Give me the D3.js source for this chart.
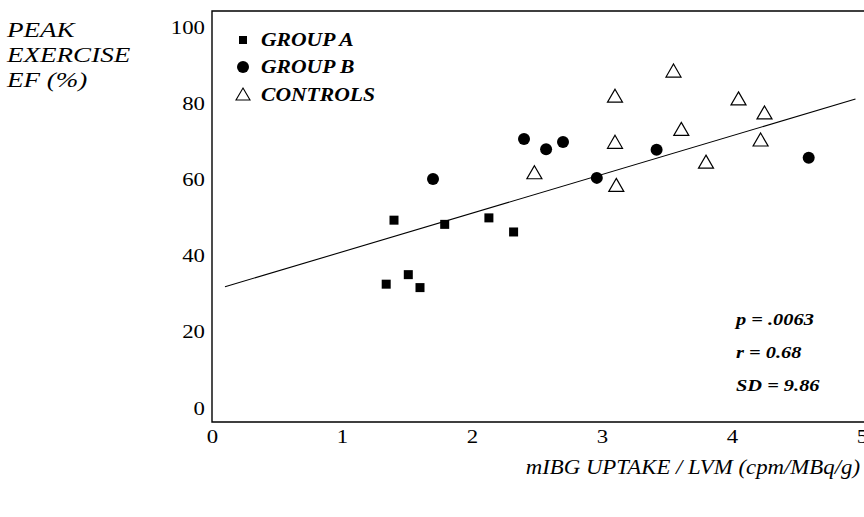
<!DOCTYPE html>
<html>
<head>
<meta charset="utf-8">
<script src="https://cdn.jsdelivr.net/npm/d3@7"></script>
<style>
  html, body { margin: 0; padding: 0; background: #fff; }
  svg { display: block; }
  svg text { font-family: "Liberation Serif", "Tinos", "Times New Roman", "DejaVu Serif", serif; fill: #000; }
</style>
</head>
<body>
<svg id="chart" width="864" height="517"></svg>
<script>
// ---- data ----
const xTicks = [0, 1, 2, 3, 4, 5];
const yTicks = [0, 20, 40, 60, 80, 100];
const groupAX = [1.34, 1.40, 1.51, 1.60, 1.79, 2.13, 2.32];
const groupAY = [32.5, 49.3, 35.0, 31.6, 48.2, 49.9, 46.2];
const groupBX = [1.70, 2.40, 2.57, 2.70, 2.96, 3.42, 4.59];
const groupBY = [60.1, 70.6, 67.9, 69.8, 60.4, 67.8, 65.7];
const controlsX = [2.48, 3.10, 3.10, 3.11, 3.55, 3.61, 3.80, 4.05, 4.22, 4.25];
const controlsY = [61.6, 81.7, 69.6, 58.3, 88.3, 73.0, 64.4, 81.0, 70.2, 77.3];
const fitIntercept = 30.8;
const fitSlope = 10.16;
const fitRange = [0.1, 4.95];
const legendLabels = ["GROUP A", "GROUP B", "CONTROLS"];
const statsLabels = ["p = .0063", "r = 0.68", "SD = 9.86"];
const yTitleLines = ["PEAK", "EXERCISE", "EF (%)"];
const xTitle = "mIBG UPTAKE / LVM (cpm/MBq/g)";

// ---- layout ----
const FONT = '"Liberation Serif", "Tinos", "Times New Roman", "DejaVu Serif", serif';
const SX = 1.2; // horizontal stretch of the original typesetting
const svg = d3.select("#chart");
const x = d3.scaleLinear().domain([0, 5]).range([212, 862]);
const y = d3.scaleLinear().domain([0, 100]).range([408, 27]);
const frameTop = 11, frameBottom = 422, frameLeft = 212, frameRight = 864;

function stretchedText(g, px, py, str, size, weight, style, anchor, sx) {
  return g.append("text")
    .attr("transform", `translate(${px},${py}) scale(${sx || SX},1)`)
    .attr("font-family", FONT)
    .attr("font-size", size)
    .attr("font-weight", weight)
    .attr("font-style", style)
    .attr("text-anchor", anchor || "start")
    .text(str);
}

// frame
svg.append("path")
  .attr("d", `M${frameRight},${frameTop}H${frameLeft}V${frameBottom}H${frameRight}`)
  .attr("fill", "none").attr("stroke", "#000").attr("stroke-width", 1.4);

// axes (labels only)
const yAxis = svg.append("g").attr("transform", `translate(${frameLeft},0)`)
  .call(d3.axisLeft(y).tickValues(yTicks).tickSize(0).tickPadding(7).tickFormat(d3.format("d")));
yAxis.attr("font-family", FONT);
yAxis.select(".domain").remove();
yAxis.selectAll("text")
  .attr("font-family", FONT).attr("font-size", 19)
  .attr("transform", `scale(${SX},1)`).attr("x", -7 / SX);

const xAxis = svg.append("g").attr("transform", `translate(0,${frameBottom})`)
  .call(d3.axisBottom(x).tickValues(xTicks).tickSize(0).tickPadding(8).tickFormat(d3.format("d")));
xAxis.attr("font-family", FONT);
xAxis.select(".domain").remove();
xAxis.selectAll(".tick text")
  .attr("font-family", FONT).attr("font-size", 19)
  .attr("transform", `scale(${SX},1)`);

// regression line
const line = d3.line().x(d => x(d)).y(d => y(fitIntercept + fitSlope * d));
svg.append("path").datum(fitRange).attr("d", line)
  .attr("fill", "none").attr("stroke", "#000").attr("stroke-width", 1.1);

// markers
const sq = 9, circR = 6, triW = 15, triH = 13;
const triPath = (cx, cy, w, h) =>
  `M${cx},${cy - h * 0.58}L${cx + w / 2},${cy + h * 0.42}L${cx - w / 2},${cy + h * 0.42}Z`;

svg.append("g").selectAll("rect").data(d3.range(groupAX.length)).join("rect")
  .attr("x", i => x(groupAX[i]) - sq / 2).attr("y", i => y(groupAY[i]) - sq / 2)
  .attr("width", sq).attr("height", sq).attr("fill", "#000");

svg.append("g").selectAll("circle").data(d3.range(groupBX.length)).join("circle")
  .attr("cx", i => x(groupBX[i])).attr("cy", i => y(groupBY[i])).attr("r", circR)
  .attr("fill", "#000");

svg.append("g").selectAll("path").data(d3.range(controlsX.length)).join("path")
  .attr("d", i => triPath(x(controlsX[i]), y(controlsY[i]), triW, triH))
  .attr("fill", "#fff").attr("stroke", "#000").attr("stroke-width", 1.2);

// legend
const lg = svg.append("g");
const legendY = [40, 67, 95];
lg.append("rect").attr("x", 243 - 4).attr("y", legendY[0] - 4).attr("width", 8).attr("height", 8).attr("fill", "#000");
lg.append("circle").attr("cx", 243).attr("cy", legendY[1]).attr("r", 6).attr("fill", "#000");
lg.append("path").attr("d", triPath(243, legendY[2], 14, 12)).attr("fill", "#fff").attr("stroke", "#000").attr("stroke-width", 1.1);
legendLabels.forEach((t, i) => stretchedText(lg, 261, legendY[i] + 6, t, 18, "bold", "italic"));

// stats
const sg = svg.append("g");
const statsY = [320, 353, 386];
statsLabels.forEach((t, i) => stretchedText(sg, 736, statsY[i] + 5, t, 17, "bold", "italic"));

// y title
const yt = svg.append("g");
yTitleLines.forEach((t, i) => stretchedText(yt, 7, 37 + i * 25, t, 22, "normal", "italic", "start", 1.23));

// x title
stretchedText(svg, 860, 474, xTitle, 20, "normal", "italic", "end", 1.14);
</script>
</body>
</html>
